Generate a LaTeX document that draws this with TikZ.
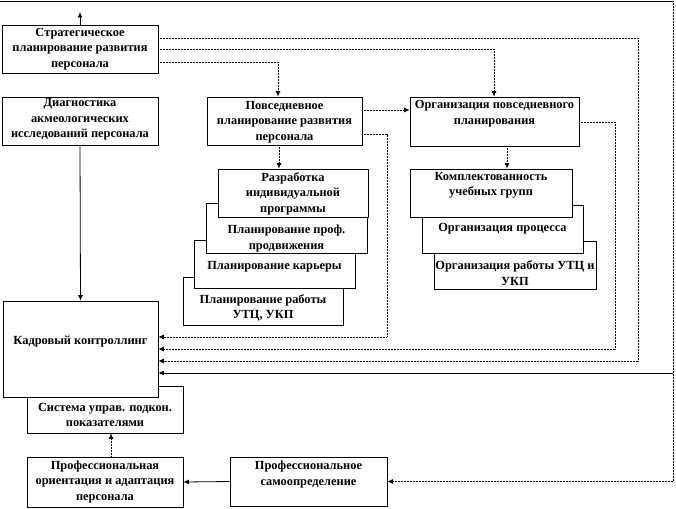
\documentclass[tikz,border=0pt]{standalone}
\usepackage{fontspec}
\setmainfont{Liberation Serif}
\usetikzlibrary{arrows.meta}
\begin{document}
\begin{tikzpicture}[x=1pt,y=-1pt,
  box/.style={draw=black,fill=white,line width=0.8pt,inner sep=0pt,rectangle},
  txt/.style={align=center,inner sep=0pt,font=\fontsize{12.4}{15.5}\selectfont\bfseries},
  arr/.style={-{Latex[length=5.5pt,width=5pt]}},
  dots/.style={line width=0.8pt,dash pattern=on 1pt off 0.5pt},
  sol/.style={line width=0.8pt}]
\useasboundingbox[fill=white] (0,0) rectangle (676,508);
% boxes (back to front)
\node[box,minimum width=156,minimum height=48] (strat) at (80,49) {};
\node[box,minimum width=156,minimum height=48] (diag) at (80,121) {};
\node[box,minimum width=155,minimum height=48] (povs) at (284.5,121) {};
\node[box,minimum width=169,minimum height=49] (org) at (494.5,121.5) {};
\node[box,minimum width=160,minimum height=48] (prab) at (263,301) {};
\node[box,minimum width=161,minimum height=48] (pkar) at (274.5,264) {};
\node[box,minimum width=161,minimum height=50] (pprof) at (286.5,228) {};
\node[box,minimum width=150,minimum height=48] (razr) at (293,193) {};
\node[box,minimum width=162,minimum height=48] (orab) at (515,265) {};
\node[box,minimum width=161,minimum height=48] (oproc) at (502.5,229) {};
\node[box,minimum width=162,minimum height=48] (kompl) at (491,193) {};
\node[box,minimum width=156,minimum height=47] (sist) at (105,409.5) {};
\node[box,minimum width=155,minimum height=96] (kadr) at (80.5,349) {};
\node[box,minimum width=156,minimum height=50] (prof) at (105,482) {};
\node[box,minimum width=157,minimum height=49] (samo) at (308.5,481.5) {};
% texts
\node[txt] (strat-t) at (80,49) {Стратегическое\\планирование развития\\персонала};
\node[txt] (diag-t) at (80,119.5) {Диагностика\\акмеологических\\исследований персонала};
\node[txt] (povs-t) at (284.5,122) {Повседневное\\планирование развития\\персонала};
\node[txt] (org-t) at (494.5,113.5) {Организация повседневного\\планирования};
\node[txt] (razr-t) at (293,193.5) {Разработка\\индивидуальной\\программы};
\node[txt] (pprof-t) at (286.5,238.5) {Планирование проф.\\продвижения};
\node[txt] (pkar-t) at (274.5,267) {Планирование карьеры};
\node[txt] (prab-t) at (263,308) {Планирование работы\\УТЦ, УКП};
\node[txt] (kompl-t) at (491,185.5) {Комплектованность\\учебных групп};
\node[txt] (oproc-t) at (502.5,229) {Организация процесса};
\node[txt] (orab-t) at (515,273) {Организация работы УТЦ и\\УКП};
\node[txt] (kadr-t) at (80.5,342) {Кадровый контроллинг};
\node[txt] (sist-t) at (105,415) {Система управ. подкон.\\показателями};
\node[txt] (prof-t) at (105,482) {Профессиональная\\ориентация и адаптация\\персонала};
\node[txt] (samo-t) at (308.5,474.5) {Профессиональное\\самоопределение};
% coordinates
\coordinate (up) at (80,12);
\coordinate (topL) at (0,1.5);
\coordinate (topR) at (673,1.5);
\coordinate (c1) at (638,38);
\coordinate (c2) at (494,49);
\coordinate (c3) at (278,62);
\coordinate (c4) at (279,150);
\coordinate (c5) at (387,134);
\coordinate (c6) at (615,122);
\coordinate (c7) at (507,150);
\coordinate (j1) at (387,337);
\coordinate (j2) at (615,349);
\coordinate (j3) at (638,361);
\coordinate (j4) at (673,373);
\coordinate (c8) at (111,457);
\coordinate (c9) at (0,110);
% connectors
\draw[sol,arr] (strat.north) -- (up);
\draw[sol] (topL) -- (topR);
\draw[dots,arr] (topR) |- (samo.east);
\draw[sol,arr] (j4) -- (kadr.east |- j4);
\draw[dots,arr] (strat.east |- c1) -| (j3) -- (kadr.east |- j3);
\draw[dots,arr] (strat.east |- c2) -| (org.north -| c2);
\draw[dots,arr] (strat.east |- c3) -| (povs.north -| c3);
\draw[dots,arr] (povs.south -| c4) -- (razr.north -| c4);
\draw[dots,arr] (povs.east |- c9) -- (org.west |- c9);
\draw[dots,arr] (povs.east |- c5) -| (j1) -- (kadr.east |- j1);
\draw[dots,arr] (org.east |- c6) -| (j2) -- (kadr.east |- j2);
\draw[dots,arr] (org.south -| c7) -- (kompl.north -| c7);
\draw[sol,arr] (diag.south) -- (kadr.north);
\draw[sol,arr] (samo.west) -- (prof.east);
\draw[dots,arr] (prof.north -| c8) -- (sist.south -| c8);
\end{tikzpicture}
\end{document}
